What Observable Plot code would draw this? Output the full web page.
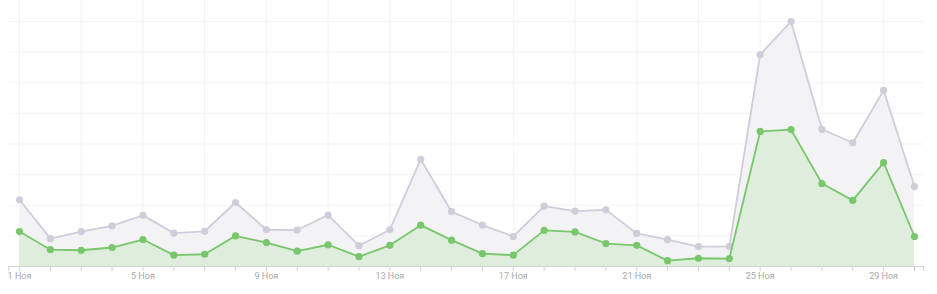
<!DOCTYPE html>
<html>
<head>
<meta charset="utf-8">
<script src="https://cdn.jsdelivr.net/npm/d3@7"></script>
<script src="https://cdn.jsdelivr.net/npm/@observablehq/plot@0.6"></script>
<style>
  html, body { margin: 0; padding: 0; background: #fff; }
  #chart svg { display: block; }
</style>
</head>
<body>
<div id="chart"></div>
<script>
const days = d3.range(1, 31);
const totalValues = [21.8, 9.1, 11.4, 13.3, 16.7, 10.9, 11.5, 20.9, 12.0, 11.9,
                     16.8, 6.8, 12.0, 35.0, 17.9, 13.5, 9.8, 19.7, 18.1, 18.5,
                     10.8, 8.8, 6.5, 6.6, 69.2, 80.0, 44.8, 40.4, 57.5, 26.1];
const greenValues = [11.4, 5.5, 5.3, 6.2, 8.8, 3.7, 4.0, 10.0, 7.8, 5.0,
                     7.1, 3.2, 6.9, 13.5, 8.6, 4.2, 3.7, 11.8, 11.3, 7.5,
                     6.9, 1.9, 2.7, 2.6, 44.1, 44.7, 27.1, 21.6, 33.9, 9.8];
const labelDays = [1, 5, 9, 13, 17, 21, 25, 29];
const monthLabel = "Ноя";
const gridValues = [10, 20, 30, 40, 50, 60, 70, 80];
const vGridDays = [1, 3, 5, 7, 9, 11, 13, 15, 17, 19, 21, 23, 25, 27, 29];

const data = days.map((d, i) => ({day: d, total: totalValues[i], green: greenValues[i]}));

const W = 937, H = 294;
const xLeft = 0.653, xRight = 30.29;

const chart = Plot.plot({
  width: W,
  height: H,
  marginLeft: 19,
  marginRight: 23,
  marginTop: 21,
  marginBottom: 28,
  style: {fontFamily: "Roboto, 'Open Sans', sans-serif", fontSize: "9px", background: "#fff"},
  x: {type: "linear", domain: [1, 30], axis: null, label: null},
  y: {domain: [0, 80], axis: null, label: null},
  marks: [
    Plot.ruleX(vGridDays, {x: d => d, y1: 0, y2: 86.9, stroke: "#f3f3f5", strokeWidth: 1}),
    Plot.ruleY(gridValues, {y: d => d, x1: xLeft, x2: xRight, stroke: "#f3f3f5", strokeWidth: 1}),
    Plot.areaY(data, {x: "day", y1: 0, y2: "total", fill: "#f3f3f6", curve: "linear"}),
    Plot.areaY(data, {x: "day", y1: 0, y2: "green", fill: "#deeddc", curve: "linear"}),
    Plot.lineY(data, {x: "day", y: "total", stroke: "#cfcdda", strokeWidth: 1.8}),
    Plot.dot(data, {x: "day", y: "total", r: 3.6, fill: "#cfcdda", stroke: "none"}),
    Plot.lineY(data, {x: "day", y: "green", stroke: "#79c66c", strokeWidth: 1.8}),
    Plot.dot(data, {x: "day", y: "green", r: 3.6, fill: "#79c66c", stroke: "none"}),
    Plot.ruleY([0], {x1: xLeft, x2: xRight, stroke: "#cfd2d6", strokeWidth: 1}),
    Plot.axisX({ticks: [xLeft, ...days, xRight], tickFormat: () => "", tickSize: 5, stroke: "#cfd2d6", strokeWidth: 1, label: null}),
    Plot.axisX({ticks: labelDays, tickSize: 0, tickPadding: 6, tickFormat: d => `${d} ${monthLabel}`, fill: "#a6a9ae", fontSize: 9, label: null})
  ]
});

document.getElementById("chart").appendChild(chart);
</script>
</body>
</html>
